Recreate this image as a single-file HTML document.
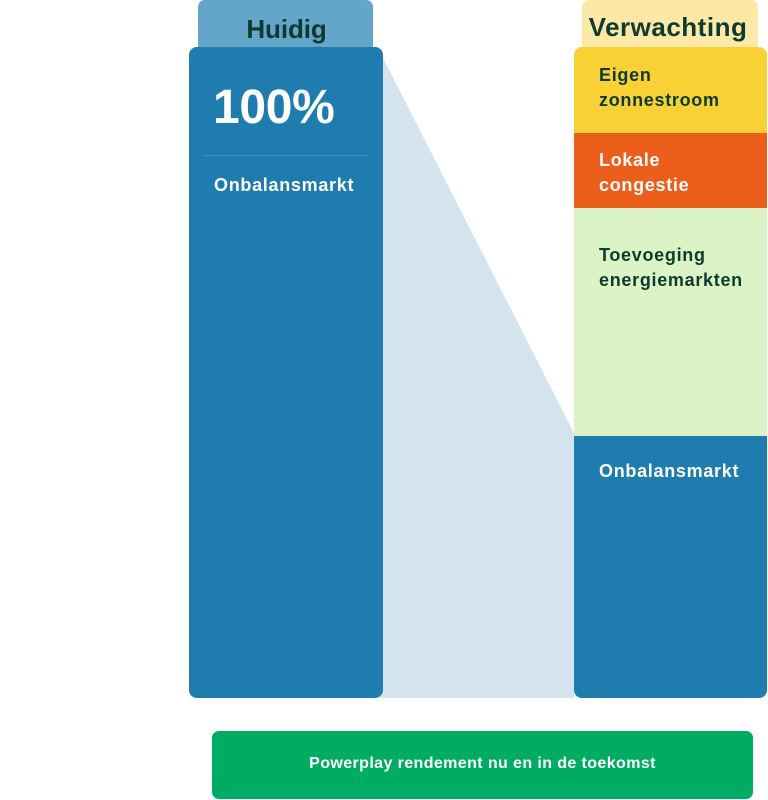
<!DOCTYPE html>
<html>
<head>
<meta charset="utf-8">
<style>
  html,body{margin:0;padding:0;background:#ffffff;}
  body{width:768px;height:800px;position:relative;overflow:hidden;font-family:"Liberation Sans",sans-serif;}
  .a{position:absolute;}
  .t{position:absolute;white-space:nowrap;font-weight:bold;}
  .s{font-size:18px;line-height:25px;letter-spacing:0.7px;}
</style>
</head>
<body>
  <svg class="a" style="left:0;top:0" width="768" height="800">
    <polygon points="380,52 574,433 574,698 380,698" fill="#d3e4ef"/>
  </svg>

  <!-- Huidig tab -->
  <div class="a" style="left:198px;top:0;width:175px;height:52px;background:#63a6ca;border-radius:7px 7px 0 0;"></div>
  <div class="t" style="left:199px;width:175px;text-align:center;top:16px;font-size:26px;line-height:26px;color:#0e3a2f;letter-spacing:-0.1px;">Huidig</div>

  <!-- Left bar -->
  <div class="a" style="left:189px;top:47px;width:194px;height:651px;background:#1f7cae;border-radius:8px;"></div>
  <div class="t" style="left:213px;top:84px;font-size:48px;line-height:48px;color:#ffffff;letter-spacing:-0.3px;">100%</div>
  <div class="a" style="left:204px;top:155px;width:165px;height:1px;background:#4591c0;"></div>
  <div class="t s" style="left:214px;top:173px;color:#ffffff;">Onbalansmarkt</div>

  <!-- Verwachting tab -->
  <div class="a" style="left:582px;top:0;width:176px;height:52px;background:#fce9a7;border-radius:7px 7px 0 0;"></div>
  <div class="t" style="left:580px;width:176px;text-align:center;top:14px;font-size:26px;line-height:26px;color:#0e3a2f;letter-spacing:0.5px;">Verwachting</div>

  <!-- Right bar -->
  <div class="a" style="left:574px;top:47px;width:193px;height:651px;border-radius:8px;overflow:hidden;">
    <div class="a" style="left:0;top:0;width:193px;height:86px;background:#f8d235;"></div>
    <div class="a" style="left:0;top:86px;width:193px;height:75px;background:#ec5f1b;"></div>
    <div class="a" style="left:0;top:161px;width:193px;height:228px;background:#dcf3c6;"></div>
    <div class="a" style="left:0;top:389px;width:193px;height:262px;background:#1f7cae;"></div>
  </div>
  <div class="t s" style="left:599px;top:63px;color:#0e3a2f;">Eigen<br>zonnestroom</div>
  <div class="t s" style="left:599px;top:148px;color:#ffffff;">Lokale<br>congestie</div>
  <div class="t s" style="left:599px;top:243px;color:#0e3a2f;">Toevoeging<br>energiemarkten</div>
  <div class="t s" style="left:599px;top:459px;color:#ffffff;">Onbalansmarkt</div>

  <!-- Green button -->
  <div class="a" style="left:212px;top:731px;width:541px;height:68px;background:#00ab63;border-radius:7px;"></div>
  <div class="t" style="left:212px;width:541px;text-align:center;top:756px;font-size:16px;line-height:16px;color:#ffffff;letter-spacing:0.4px;">Powerplay rendement nu en in de toekomst</div>
</body>
</html>
